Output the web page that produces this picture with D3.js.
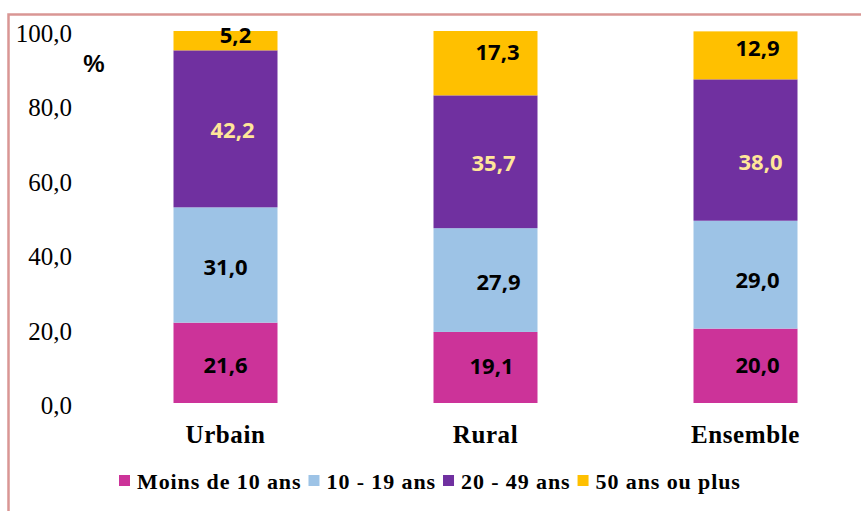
<!DOCTYPE html>
<html>
<head>
<meta charset="utf-8">
<script src="https://cdn.jsdelivr.net/npm/d3@7"></script>
<style>
  body { margin: 0; background: #fff; }
  svg { display: block; }
</style>
</head>
<body>
<svg id="chart"></svg>
<script>
// data
const categories = ['Urbain', 'Rural', 'Ensemble'];
const seriesNames = ['Moins de 10 ans', '10 - 19 ans', '20 - 49 ans', '50 ans ou plus'];
const moins10 = [21.6, 19.1, 20.0];
const de10a19 = [31.0, 27.9, 29.0];
const de20a49 = [42.2, 35.7, 38.0];
const plus50 = [5.2, 17.3, 12.9];
const yTicks = [0, 20, 40, 60, 80, 100];

const colors = ['#CC3399', '#9DC3E6', '#7030A0', '#FFC000'];
const labelColors = ['#000', '#000', '#FFE699', '#000'];
// small pixel nudges of the value labels, [dx, dy] per series per category
const labelNudge = [
    [[0, 2], [6, -1], [12, -1]],
    [[0, 2], [13, 2], [12, 5]],
    [[7, 1], [8, 1], [15, 12]],
    [[10, -6], [12, -11], [12, -7]]
];

const width = 861, height = 511;
const svg = d3.select('#chart').attr('width', width).attr('height', height);

const rows = categories.map((c, i) => ({
    cat: c,
    s0: moins10[i], s1: de10a19[i], s2: de20a49[i], s3: plus50[i]
}));
const keys = ['s0', 's1', 's2', 's3'];
const stacked = d3.stack().keys(keys)(rows);

const x = d3.scaleBand().domain(categories).range([95.5, 875.5])
    .paddingInner(0.6).paddingOuter(0.3);
const y = d3.scaleLinear().domain([0, 100]).range([403, 31]);

const fmt = v => v.toFixed(1).replace('.', ',');

// frame
svg.append('path')
    .attr('d', `M8.5,${height} L8.5,14.5 L${width},14.5`)
    .attr('fill', 'none')
    .attr('stroke', '#D99694')
    .attr('stroke-width', 2.5);

// y axis labels only
const yAxis = svg.append('g')
    .attr('transform', 'translate(72,0)')
    .call(d3.axisLeft(y).tickValues(yTicks).tickFormat(fmt).tickSize(0).tickPadding(0));
yAxis.select('.domain').remove();
yAxis.selectAll('text')
    .attr('font-family', '"Liberation Serif", "Times New Roman", serif')
    .attr('font-size', 25)
    .attr('fill', '#000')
    .attr('dy', '0.42em');

svg.append('text')
    .attr('x', 94).attr('y', 72)
    .attr('text-anchor', 'middle')
    .attr('font-family', '"Liberation Sans", Arial, sans-serif')
    .attr('font-weight', 'bold')
    .attr('font-size', 24)
    .text('%');

// bars
const layer = svg.append('g').selectAll('g')
    .data(stacked)
    .join('g')
    .attr('fill', (d, i) => colors[i]);

layer.selectAll('rect')
    .data(d => d)
    .join('rect')
    .attr('x', d => x(d.data.cat))
    .attr('width', x.bandwidth())
    .attr('y', d => y(d[1]))
    .attr('height', d => y(d[0]) - y(d[1]));

// value labels
stacked.forEach((s, si) => {
    svg.append('g').selectAll('text')
        .data(s)
        .join('text')
        .attr('x', (d, ci) => x(d.data.cat) + x.bandwidth() / 2 + labelNudge[si][ci][0])
        .attr('y', (d, ci) => y((d[0] + d[1]) / 2) + labelNudge[si][ci][1])
        .attr('dy', '0.36em')
        .attr('text-anchor', 'middle')
        .attr('font-family', '"Open Sans", sans-serif')
        .attr('font-weight', 700)
        .attr('font-size', 22)
        .attr('fill', labelColors[si])
        .text(d => fmt(d.data[s.key]));
});

// category labels
svg.append('g').selectAll('text')
    .data(categories)
    .join('text')
    .attr('x', d => x(d) + x.bandwidth() / 2)
    .attr('y', 443)
    .attr('text-anchor', 'middle')
    .attr('font-family', '"Liberation Serif", "Times New Roman", serif')
    .attr('font-weight', 'bold')
    .attr('font-size', 25)
    .attr('letter-spacing', 0.6)
    .text(d => d);

// legend
const legend = svg.append('g');
let lx = 119;
seriesNames.forEach((name, i) => {
    legend.append('rect')
        .attr('x', lx).attr('y', 475)
        .attr('width', 11).attr('height', 11)
        .attr('fill', colors[i]);
    const t = legend.append('text')
        .attr('x', lx + 18).attr('y', 489)
        .attr('font-family', '"Liberation Serif", "Times New Roman", serif')
        .attr('font-weight', 'bold')
        .attr('font-size', 22)
        .attr('letter-spacing', 0.9)
        .text(name);
    lx += 18 + t.node().getComputedTextLength() + 7;
});
</script>
</body>
</html>
